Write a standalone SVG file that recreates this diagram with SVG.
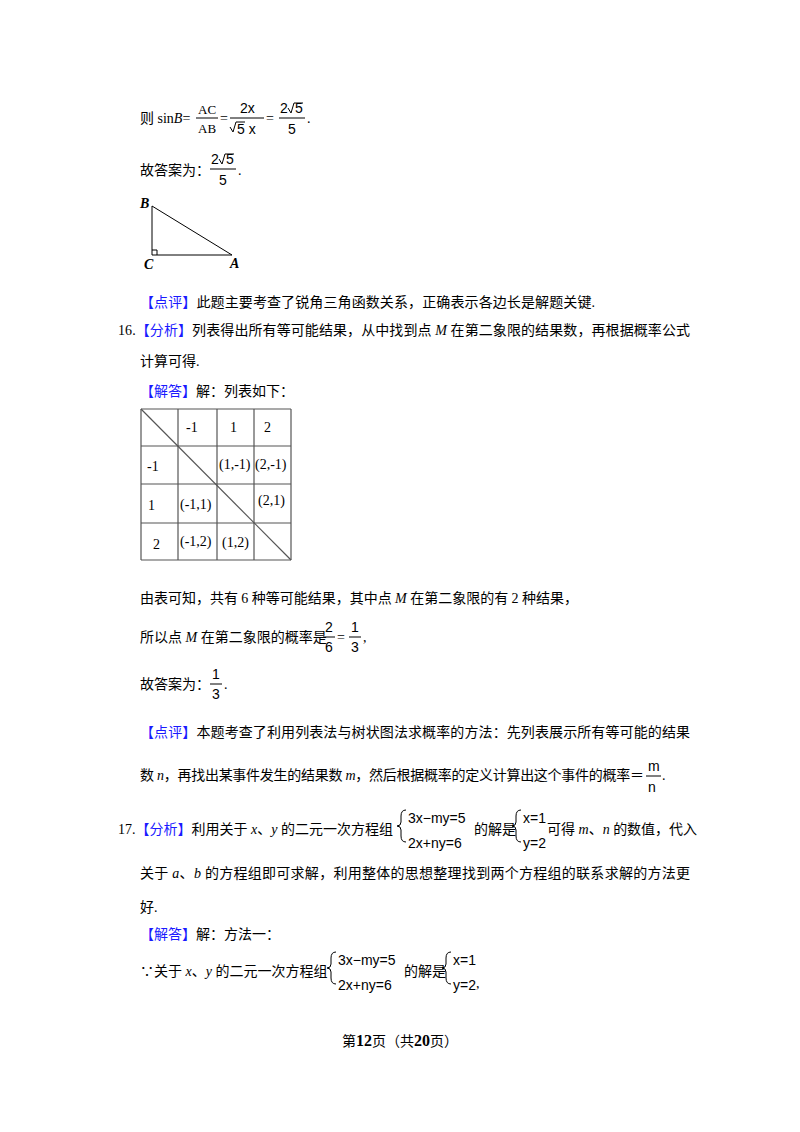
<svg xmlns="http://www.w3.org/2000/svg" width="800" height="1132" viewBox="0 0 800 1132">
<style>
text{font-family:"Liberation Serif","Noto Sans CJK SC",serif;font-size:14px;fill:#000}
.b{fill:#1a1aff}
.m{font-family:"Liberation Sans","Noto Sans CJK SC",sans-serif;font-size:14px}
.s{font-size:13px}
line,path,polyline{stroke:#000;stroke-width:1;fill:none}
.t line{stroke:#555;stroke-width:1.2}
</style>
<rect width="800" height="1132" fill="#fff"/>
<text x="140" y="123">则 sin<tspan font-style="italic">B</tspan>=</text>
<text x="198" y="114" class="s">AC</text><line x1="196" y1="118" x2="218" y2="118"/><text x="198" y="133" class="s">AB</text>
<text x="220" y="123">=</text>
<text x="240" y="113" class="m">2x</text><line x1="230" y1="118" x2="264" y2="118"/><path d="M230,127 l3,5 l3,-10 h9"/><text x="237" y="134" class="m">5 x</text>
<text x="266" y="123">=</text>
<text x="280" y="113" class="m">2</text><path d="M288,108 l3,5 l3,-10 h9"/><text x="295" y="113" class="m">5</text><line x1="279" y1="118" x2="305" y2="118"/><text x="288" y="134" class="m">5</text>
<text x="307" y="123">.</text>
<text x="140" y="175">故答案为：</text>
<text x="211" y="164" class="m">2</text><path d="M219,159 l3,5 l3,-10 h9"/><text x="226" y="164" class="m">5</text><line x1="210" y1="169" x2="236" y2="169"/><text x="219" y="185" class="m">5</text><text x="238" y="175">.</text>
<polygon points="152,206 152,255 232,255" fill="none" stroke="#000"/>
<polyline points="152,250 157,250 157,255"/>
<text x="140" y="208" font-style="italic" font-weight="bold" font-size="13">B</text>
<text x="144" y="269" font-style="italic" font-weight="bold" font-size="13">C</text>
<text x="230" y="268" font-style="italic" font-weight="bold" font-size="13">A</text>
<text x="140" y="307" textLength="455"><tspan class="b">【点评】</tspan>此题主要考查了锐角三角函数关系，正确表示各边长是解题关键.</text>
<text x="118" y="335" textLength="572">16.<tspan class="b">【分析】</tspan>列表得出所有等可能结果，从中找到点 <tspan font-style="italic">M</tspan> 在第二象限的结果数，再根据概率公式</text>
<text x="140" y="366">计算可得.</text>
<text x="140" y="396"><tspan class="b">【解答】</tspan>解：列表如下：</text>
<g class="t">
<line x1="141" y1="409" x2="291" y2="409"/><line x1="141" y1="446" x2="291" y2="446"/><line x1="141" y1="484" x2="291" y2="484"/><line x1="141" y1="523" x2="291" y2="523"/><line x1="141" y1="560" x2="291" y2="560"/>
<line x1="141" y1="409" x2="141" y2="560"/><line x1="178" y1="409" x2="178" y2="560"/><line x1="217" y1="409" x2="217" y2="560"/><line x1="254" y1="409" x2="254" y2="560"/><line x1="291" y1="409" x2="291" y2="560"/>
<line x1="141" y1="409" x2="291" y2="560" stroke="#222"/>
</g>
<g>
<text x="186" y="432" font-size="13">-1</text><text x="230" y="432" font-size="13">1</text><text x="264" y="432" font-size="13">2</text>
<text x="147" y="471" font-size="13">-1</text><text x="148" y="510" font-size="13">1</text><text x="153" y="549" font-size="13">2</text>
<text x="219" y="469" font-size="13">(1,-1)</text><text x="255" y="469" font-size="13">(2,-1)</text>
<text x="180" y="509" font-size="13">(-1,1)</text><text x="258" y="505" font-size="13">(2,1)</text>
<text x="180" y="546" font-size="13">(-1,2)</text><text x="222" y="547" font-size="13">(1,2)</text>
</g>
<text x="140" y="603" textLength="438">由表可知，共有 6 种等可能结果，其中点 <tspan font-style="italic">M</tspan> 在第二象限的有 2 种结果，</text>
<text x="140" y="642">所以点 <tspan font-style="italic">M</tspan> 在第二象限的概率是</text>
<text x="325" y="632" class="m">2</text><line x1="323" y1="637" x2="335" y2="637"/><text x="325" y="652" class="m">6</text>
<text x="337" y="642">=</text>
<text x="351" y="632" class="m">1</text><line x1="349" y1="637" x2="361" y2="637"/><text x="351" y="652" class="m">3</text><text x="363" y="642">,</text>
<text x="140" y="689">故答案为：</text>
<text x="212" y="679" class="m">1</text><line x1="210" y1="684" x2="222" y2="684"/><text x="212" y="699" class="m">3</text><text x="224" y="689">.</text>
<text x="140" y="737" textLength="550"><tspan class="b">【点评】</tspan>本题考查了利用列表法与树状图法求概率的方法：先列表展示所有等可能的结果</text>
<text x="140" y="780" textLength="504">数 <tspan font-style="italic">n</tspan>，再找出某事件发生的结果数 <tspan font-style="italic">m</tspan>，然后根据概率的定义计算出这个事件的概率＝</text>
<text x="648" y="771" class="m">m</text><line x1="646" y1="776" x2="661" y2="776"/><text x="648" y="792" class="m">n</text><text x="662" y="780">.</text>
<text x="118" y="834" font-size="13">17.<tspan class="b">【分析】</tspan>利用关于 <tspan font-style="italic">x</tspan>、<tspan font-style="italic">y</tspan> 的二元一次方程组</text>
<path d="M406,810 q-5,0 -5,6 v6 q0,4 -4,4 q4,0 4,4 v6 q0,6 5,6"/>
<text x="408" y="823" class="m" font-size="13">3x−my=5</text><text x="408" y="848" class="m" font-size="13">2x+ny=6</text>
<text x="474" y="834" font-size="13">的解是</text>
<path d="M521,810 q-5,0 -5,6 v6 q0,4 -4,4 q4,0 4,4 v6 q0,6 5,6"/>
<text x="523" y="823" class="m" font-size="13">x=1</text><text x="523" y="848" class="m" font-size="13">y=2</text>
<text x="547" y="834" font-size="13">可得 <tspan font-style="italic">m</tspan>、<tspan font-style="italic">n</tspan> 的数值，代入</text>
<text x="140" y="878" textLength="550">关于 <tspan font-style="italic">a</tspan>、<tspan font-style="italic">b</tspan> 的方程组即可求解，利用整体的思想整理找到两个方程组的联系求解的方法更</text>
<text x="140" y="912">好.</text>
<text x="140" y="939"><tspan class="b">【解答】</tspan>解：方法一：</text>
<text x="140" y="976" font-size="13">∵关于 <tspan font-style="italic">x</tspan>、<tspan font-style="italic">y</tspan> 的二元一次方程组</text>
<path d="M336,952 q-5,0 -5,6 v6 q0,4 -4,4 q4,0 4,4 v6 q0,6 5,6"/>
<text x="338" y="965" class="m" font-size="13">3x−my=5</text><text x="338" y="990" class="m" font-size="13">2x+ny=6</text>
<text x="404" y="976" font-size="13">的解是</text>
<path d="M451,952 q-5,0 -5,6 v6 q0,4 -4,4 q4,0 4,4 v6 q0,6 5,6"/>
<text x="453" y="965" class="m" font-size="13">x=1</text><text x="453" y="990" class="m" font-size="13">y=2</text><text x="476" y="988">,</text>
<text x="400" y="1046" text-anchor="middle" font-size="13">第<tspan font-weight="bold" font-size="16">12</tspan>页（共<tspan font-weight="bold" font-size="16">20</tspan>页）</text>
</svg>
